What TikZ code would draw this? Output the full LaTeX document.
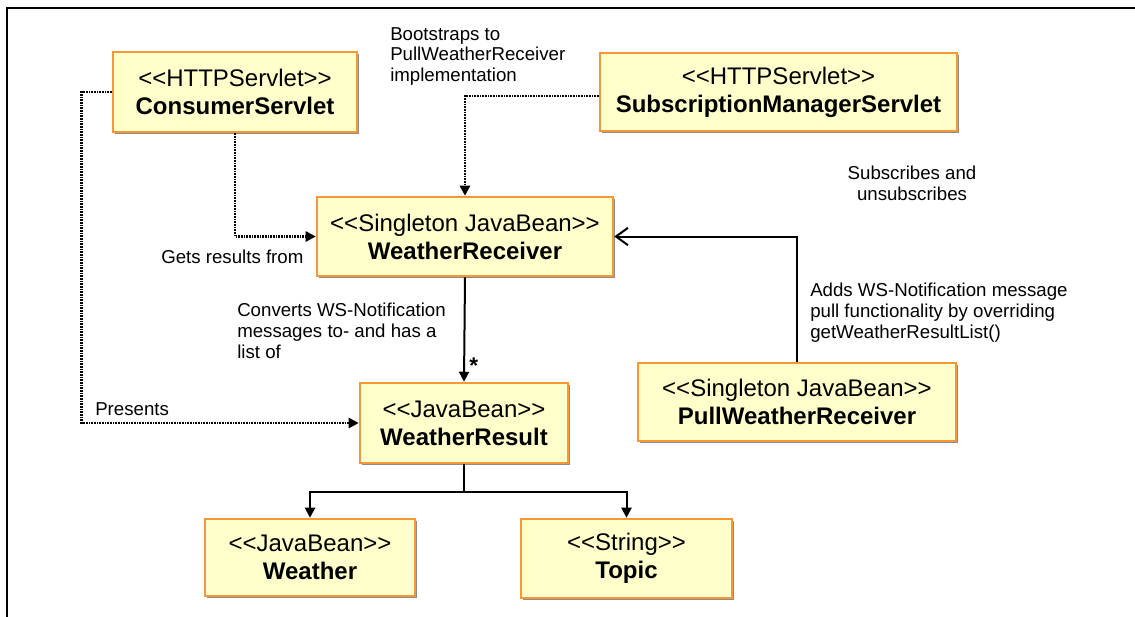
\documentclass[tikz,border=0pt]{standalone}
\usepackage{fontspec}
\setmainfont{Liberation Sans}
\usetikzlibrary{arrows.meta,shadows}
\definecolor{boxfill}{RGB}{255,255,204}
\definecolor{boxline}{RGB}{247,152,52}
\newcommand\stl{<\kern0pt<}
\newcommand\stg{>\kern0pt>}
\begin{document}
\begin{tikzpicture}[x=0.75pt,y=-0.75pt,
  umlbox/.style n args={2}{draw=boxline, fill=boxfill, line width=1.9pt,
    minimum width={#1*0.75pt}, minimum height={#2*0.75pt}, inner sep=0pt,
    align=center, font=\fontsize{18}{21}\selectfont,
    general shadow={fill=black!45, shadow xshift=1.6pt, shadow yshift=-1.6pt}},
  lbl/.style={inner sep=0pt, font=\fontsize{14}{15.5}\selectfont},
  dotline/.style={line width=2pt, dash pattern=on 1.2pt off 0.8pt,
    -{Triangle[length=7.5pt,width=7.5pt]}},
  solidarrow/.style={line width=1.5pt, -{Triangle[length=7.5pt,width=7.5pt]}},
  openarrow/.style={line width=1.5pt, -{Straight Barb[length=9pt,width=13pt,line width=1.5pt]}},
  frameline/.style={line width=1.1pt}
]
\useasboundingbox (0,0) rectangle (1135,617);
\coordinate (fa) at (7,617);
\coordinate (fb) at (7,8);
\coordinate (fc) at (1135,8);
\draw[frameline] (fa) -- (fb) -- (fc);

\node[umlbox={244}{80}] (cs) at (235,92) {\stl HTTPServlet\stg\\\textbf{ConsumerServlet}};
\node[umlbox={357}{78}] (sms) at (778.5,92) {\stl HTTPServlet\stg\\\textbf{SubscriptionManagerServlet}};
\node[umlbox={296}{79}] (wr) at (465,236.5) {\stl Singleton JavaBean\stg\\\textbf{WeatherReceiver}};
\node[umlbox={208}{80}] (wres) at (464,423) {\stl JavaBean\stg\\\textbf{WeatherResult}};
\node[umlbox={318}{78}] (pwr) at (797,402) {\stl Singleton JavaBean\stg\\\textbf{PullWeatherReceiver}};
\node[umlbox={210}{77}] (weather) at (310,557.5) {\stl JavaBean\stg\\\textbf{Weather}};
\node[umlbox={211}{79}] (topic) at (626.5,558.5) {\stl String\stg\\\textbf{Topic}};

% connectors
\draw[dotline] ([yshift=-3pt]sms.west) -| (wr.north);
\draw[dotline] (cs.south) |- (wr.west);
\draw[dotline] (cs.west) -- ++(-30,0) |- (wres.west);
\draw[solidarrow] (wr.south) -- (wres.north);
\draw[openarrow] (pwr.north) |- (wr.east);
\draw[solidarrow] (wres.south) -- ++(0,28) -| (weather.north);
\draw[solidarrow] (wres.south) -- ++(0,28) -| (topic.north);

% labels
\node[lbl, anchor=north west, align=left] (lboot) at (390,27) {Bootstraps to\\PullWeatherReceiver\\implementation};
\node[lbl, anchor=north, align=center] (lsub) at (912,166) {Subscribes and\\unsubscribes};
\node[lbl, anchor=base west] (lgets) at (161,263) {Gets results from};
\node[lbl, anchor=north west, align=left] (lconv) at (237,303) {Converts WS-Notification\\messages to- and has a\\list of};
\node[lbl, anchor=north west, font=\fontsize{17}{18}\selectfont\bfseries] (lstar) at (469,358) {*};
\node[lbl, anchor=base west] (lpres) at (95,415) {Presents};
\node[lbl, anchor=north west, align=left] (ladds) at (810,283) {Adds WS-Notification message\\pull functionality by overriding\\getWeatherResultList()};
\end{tikzpicture}
\end{document}
